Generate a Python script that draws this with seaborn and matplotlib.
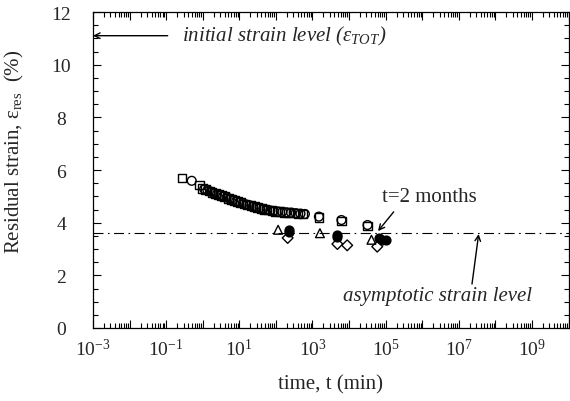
import numpy as np
import pandas as pd
import matplotlib
matplotlib.use("Agg")
import matplotlib.pyplot as plt
import matplotlib.ticker as mticker
import seaborn as sns

# ---------------- data ----------------
sq_t = [0.27, 0.8, 1.0, 1.2, 1.5, 1.8, 2.2, 2.7, 3.3, 4.0, 5.0, 6.0, 7.5, 9.0, 11, 14, 17, 21,
        26, 32, 40, 50, 62, 78, 100, 130, 170, 220, 300, 400, 550, 1500, 6200, 32000]
sq_v = [5.70, 5.43, 5.30, 5.25, 5.20, 5.16, 5.11, 5.06, 5.02, 4.98, 4.93, 4.89, 4.84, 4.80, 4.76,
        4.71, 4.67, 4.64, 4.60, 4.57, 4.53, 4.50, 4.48, 4.45, 4.43, 4.41, 4.40, 4.38, 4.37, 4.35,
        4.33, 4.20, 4.06, 3.87]

oc_t = [0.5, 1.1, 1.35, 1.65, 2.0, 2.45, 3.0, 3.6, 4.5, 5.5, 6.8, 8.2, 10, 12.5, 15.5, 19, 23.5,
        29, 36, 45, 56, 70, 88, 115, 150, 195, 260, 350, 470, 620, 1500, 6200, 32000]
oc_v = [5.59, 5.28, 5.23, 5.18, 5.13, 5.08, 5.04, 5.00, 4.96, 4.91, 4.86, 4.82, 4.78, 4.74, 4.69,
        4.66, 4.62, 4.59, 4.55, 4.52, 4.49, 4.46, 4.44, 4.42, 4.41, 4.39, 4.38, 4.36, 4.34, 4.33,
        4.23, 4.10, 3.91]

tr_t = [115, 1600, 41000]
tr_v = [3.73, 3.60, 3.35]

fc_t = [230, 230, 4600, 4600, 65000, 80000, 100000]
fc_v = [3.72, 3.64, 3.52, 3.44, 3.40, 3.36, 3.33]

dm_t = [210, 4800, 8900, 59000]
dm_v = [3.42, 3.19, 3.14, 3.09]

initial_strain = 11.1
asymptotic_strain = 3.6

# ---------------- style ----------------
sns.set_style("ticks")
plt.rcParams["font.family"] = ["Liberation Serif", "DejaVu Serif"]
plt.rcParams["mathtext.fontset"] = "custom"
plt.rcParams["mathtext.rm"] = "Liberation Serif"
plt.rcParams["mathtext.it"] = "Liberation Serif:italic"
plt.rcParams["mathtext.bf"] = "Liberation Serif:bold"

fig = plt.figure(figsize=(5.7, 4.02), dpi=100)
ax = fig.add_axes([93 / 570, 1 - 329 / 402, (568.5 - 93) / 570, (329 - 13) / 402])

series = [
    (sq_t, sq_v, "s", "none"),
    (oc_t, oc_v, "o", "none"),
    (tr_t, tr_v, "^", "none"),
    (fc_t, fc_v, "o", "black"),
    (dm_t, dm_v, "D", "none"),
]
for t, v, mk, fcol in series:
    df = pd.DataFrame({"t": t, "v": v})
    size = 30 if mk == "D" else 40
    sns.scatterplot(data=df, x="t", y="v", ax=ax, marker=mk, s=size,
                    color="black", facecolor=fcol, edgecolor="black",
                    linewidth=1.0, legend=False, zorder=3)

ax.axhline(asymptotic_strain, color="black", lw=0.8,
           linestyle=(0, (9, 4, 1.5, 4)), zorder=2)

ax.set_xscale("log")
ax.set_xlim(1e-3, 1e10)
ax.set_ylim(0, 12)

ax.xaxis.set_major_locator(mticker.LogLocator(base=10, numticks=30))
ax.xaxis.set_minor_locator(mticker.LogLocator(base=10, subs=np.arange(2, 10), numticks=200))

def xfmt(val, pos):
    e = int(round(np.log10(val)))
    return r"$10^{%d}$" % e if e % 2 != 0 else ""

ax.xaxis.set_major_formatter(mticker.FuncFormatter(xfmt))
ax.xaxis.set_minor_formatter(mticker.NullFormatter())
ax.yaxis.set_major_locator(mticker.MultipleLocator(2))
ax.yaxis.set_minor_locator(mticker.MultipleLocator(0.5))

ax.tick_params(which="both", direction="in", top=True, right=True, color="black", width=0.8)
ax.tick_params(which="major", length=6)
ax.tick_params(which="minor", length=3.5)
ax.tick_params(axis="y", which="major", pad=23, labelsize=14)
ax.tick_params(axis="x", which="major", pad=7, labelsize=14)
for lab in ax.get_yticklabels():
    lab.set_horizontalalignment("center")
for sp in ax.spines.values():
    sp.set_color("black")
    sp.set_linewidth(0.9)

ax.set_xlabel("time, t (min)", fontsize=15, labelpad=11)
ax.set_ylabel(r"Residual strain, $\mathrm{\varepsilon}_{\mathrm{res}}$  (%)", fontsize=15)
ax.yaxis.set_label_coords(-0.14, 0.56)

arrow = dict(arrowstyle="->", color="black", lw=1.0, shrinkA=0, shrinkB=0,
             mutation_scale=10)

ax.annotate("", xy=(1e-3, initial_strain), xytext=(0.11, initial_strain),
            arrowprops=arrow, annotation_clip=False)
ax.text(0.27, initial_strain, r"initial strain level ($\varepsilon_{TOT}$)",
        fontsize=15, style="italic", ha="left", va="center")

ax.annotate("", xy=(6.2e4, 3.68), xytext=(1.66e5, 4.41), arrowprops=arrow)
ax.text(7.9e4, 5.0, "t=2 months", fontsize=15, ha="left", va="center")

ax.annotate("", xy=(3.5e7, 3.57), xytext=(2.3e7, 1.67), arrowprops=arrow)
ax.text(6.8e3, 1.22, "asymptotic strain level", fontsize=15, style="italic",
        ha="left", va="center")

fig.savefig("out.png", dpi=100)
